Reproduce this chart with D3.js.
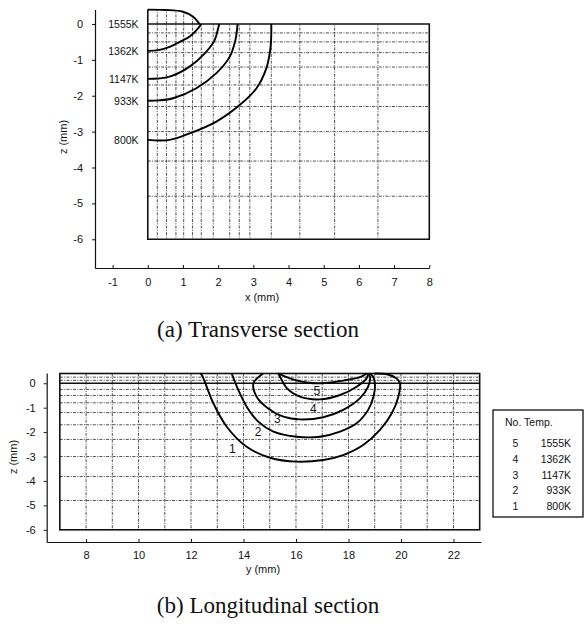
<!DOCTYPE html>
<html>
<head>
<meta charset="utf-8">
<script src="https://cdn.jsdelivr.net/npm/d3@7"></script>
<style>
  body { margin: 0; background: #fff; }
  svg text { font-family: "Liberation Sans", Arial, sans-serif; fill: #111; }
  .caption { font-family: "Liberation Serif", "Times New Roman", serif !important; }
</style>
</head>
<body>
<svg id="fig" width="585" height="624"></svg>
<script>
// ---- isotherm levels ----
const levelNo   = [5, 4, 3, 2, 1];
const levelTemp = ["1555K", "1362K", "1147K", "933K", "800K"];

// ---- (a) transverse section: isotherms as (x, z) in mm ----
const tr1555 = [[0, 0.40], [0.5, 0.39], [1.0, 0.34], [1.29, 0.20], [1.47, 0]];
const tr1362 = [[0, -0.75], [0.3, -0.73], [0.62, -0.64], [0.95, -0.48], [1.19, -0.35], [1.43, -0.12], [1.52, 0]];
const tr1147 = [[0, -1.53], [0.3, -1.52], [0.62, -1.47], [1.19, -1.19], [1.62, -0.82], [1.9, -0.45], [2.0, -0.12], [2.03, 0]];
const tr933  = [[0, -2.14], [0.3, -2.13], [0.72, -2.07], [1.38, -1.79], [1.95, -1.37], [2.33, -0.91], [2.49, -0.45], [2.54, -0.12], [2.55, 0]];
const tr800  = [[0, -3.23], [0.62, -3.23], [1.19, -3.05], [1.95, -2.72], [2.61, -2.26], [3.09, -1.79], [3.37, -1.23], [3.49, -0.63], [3.51, 0]];

// ---- (b) longitudinal section: isotherms as (y, z) in mm ----
const lg1555 = [[15.3, 0.40], [15.77, 0.20], [16.41, 0.03], [17.04, 0], [17.8, 0.11], [18.44, 0.25], [18.69, 0.40]];
const lg1362 = [[15.33, 0.40], [15.45, 0.15], [15.65, -0.20], [16.15, -0.55], [16.91, -0.66], [17.68, -0.48], [18.31, -0.14], [18.69, 0.20], [18.75, 0.40]];
const lg1147 = [[14.75, 0.40], [14.38, 0], [14.5, -0.55], [14.94, -1.03], [15.52, -1.37], [16.15, -1.48], [17.04, -1.39], [17.8, -1.09], [18.44, -0.61], [18.75, -0.14], [18.82, 0.27], [18.75, 0.40]];
const lg933  = [[13.55, 0.40], [13.8, -0.27], [14.12, -0.96], [14.56, -1.57], [15.14, -1.98], [16.03, -2.19], [16.91, -2.19], [17.68, -1.98], [18.31, -1.64], [18.75, -1.09], [18.95, -0.55], [19.01, -0.07], [18.94, 0.27], [18.8, 0.40]];
const lg800  = [[12.35, 0.40], [12.41, 0.34], [12.85, -0.82], [13.36, -1.78], [14.12, -2.60], [15.01, -3.05], [16.03, -3.21], [17.04, -3.14], [17.8, -2.94], [18.56, -2.53], [19.2, -1.91], [19.65, -1.23], [19.9, -0.55], [19.96, 0], [19.83, 0.20], [19.5, 0.36], [19.0, 0.40]];

// ---- finite-element mesh lines ----
const meshX  = [0.27, 0.53, 0.8, 1.02, 1.27, 1.52, 1.86, 2.33, 2.6, 2.9, 3.51, 4.32, 5.31, 6.54];
const meshZ  = [-0.25, -0.5, -0.8, -1.2, -1.7, -2.3, -3.0, -3.82, -4.8];
const meshZTop = [0.25, 0.12];
const meshY  = [8, 9, 10, 11, 12, 13, 14, 15, 16, 17, 18, 19, 20, 21, 22];

// ---- tick values ----
const trTicksX = [-1, 0, 1, 2, 3, 4, 5, 6, 7, 8];
const trTicksZ = [0, -1, -2, -3, -4, -5, -6];
const lgTicksY = [8, 10, 12, 14, 16, 18, 20, 22];
const lgTicksZ = [0, -1, -2, -3, -4, -5, -6];

const svg = d3.select("#fig");
const gridStyle = g => g.attr("stroke", "#222").attr("stroke-width", 0.8)
  .attr("stroke-dasharray", "3,1.3,1,1.3").attr("fill", "none");

function axisStyle(g, fs) {
  g.select(".domain").attr("stroke", "#111").attr("stroke-width", 1.2);
  g.selectAll(".tick line").attr("stroke", "#111").attr("stroke-width", 1);
  g.selectAll(".tick text").attr("font-size", fs).attr("fill", "#111")
    .style("font-family", "Liberation Sans, Arial, sans-serif");
}

// ================= (a) Transverse section =================
{
  const x = d3.scaleLinear().domain([-1.5, 8]).range([95, 429.3]);
  const z = d3.scaleLinear().domain([0.4, -6.8]).range([9.6, 268]);
  const line = d3.line().x(d => x(d[0])).y(d => z(d[1])).curve(d3.curveCatmullRom.alpha(0.5));
  const g = svg.append("g");

  // clip: rectangular domain plus the bead above the surface
  const clip = svg.append("defs").append("clipPath").attr("id", "clipA");
  clip.append("rect").attr("x", x(0)).attr("y", z(0)).attr("width", x(8) - x(0)).attr("height", z(-6) - z(0));
  clip.append("path").attr("d", line(tr1555) + `L${x(0)},${z(0)}Z`);

  const mesh = g.append("g").attr("clip-path", "url(#clipA)").call(gridStyle);
  mesh.selectAll("line.v").data(meshX).join("line")
    .attr("x1", d => x(d)).attr("x2", d => x(d)).attr("y1", z(0.45)).attr("y2", z(-6));
  mesh.selectAll("line.h").data(meshZ).join("line")
    .attr("x1", x(0)).attr("x2", x(8)).attr("y1", d => z(d)).attr("y2", d => z(d));

  // domain outline
  g.append("path")
    .attr("d", `M${x(0)},${z(0.4)}L${x(0)},${z(-6)}L${x(8)},${z(-6)}L${x(8)},${z(0)}L${x(0)},${z(0)}`)
    .attr("fill", "none").attr("stroke", "#111").attr("stroke-width", 1.6);

  // isotherms
  const curves = [tr1555, tr1362, tr1147, tr933, tr800];
  g.selectAll("path.iso").data(curves).join("path")
    .attr("d", line).attr("fill", "none").attr("stroke", "#000").attr("stroke-width", 1.9);

  // isotherm labels beside the symmetry plane
  const labelZ = [0, -0.75, -1.55, -2.15, -3.25];
  g.selectAll("text.lab").data(levelTemp).join("text")
    .attr("x", x(-0.26)).attr("y", (d, i) => z(labelZ[i]) + 3.8)
    .attr("text-anchor", "end").attr("font-size", 10.5).text(d => d);

  // axes
  const ax = g.append("g").attr("transform", `translate(0,${z(-6.8)})`)
    .call(d3.axisBottom(x).tickValues(trTicksX).tickSize(3).tickSizeOuter(0).tickPadding(7).tickFormat(d => String(d)));
  axisStyle(ax, 11);
  ax.selectAll(".tick line").attr("y2", -3);
  const az = g.append("g").attr("transform", `translate(${x(-1.5)},0)`)
    .call(d3.axisLeft(z).tickValues(trTicksZ).tickSize(3).tickSizeOuter(0).tickPadding(9).tickFormat(d => String(d)));
  axisStyle(az, 11);

  g.append("text").attr("x", 262).attr("y", 301).attr("text-anchor", "middle").attr("font-size", 11).text("x (mm)");
  g.append("text").attr("transform", "translate(67,137) rotate(-90)").attr("text-anchor", "middle")
    .attr("font-size", 11).text("z (mm)");
}

svg.append("text").attr("class", "caption").attr("x", 258).attr("y", 337)
  .attr("text-anchor", "middle").attr("font-size", 23).text("(a) Transverse section");

// ================= (b) Longitudinal section =================
{
  const y = d3.scaleLinear().domain([6.5, 23.05]).range([46.7, 481]);
  const z = d3.scaleLinear().domain([0.42, -6.5]).range([373, 542]);
  const line = d3.line().x(d => y(d[0])).y(d => z(d[1])).curve(d3.curveCatmullRom.alpha(0.5));
  const g = svg.append("g");

  const mesh = g.append("g").call(gridStyle);
  mesh.selectAll("line.v").data(meshY).join("line")
    .attr("x1", d => y(d)).attr("x2", d => y(d)).attr("y1", z(0.4)).attr("y2", z(-6));
  mesh.selectAll("line.h").data(meshZTop.concat(meshZ)).join("line")
    .attr("x1", y(7)).attr("x2", y(23)).attr("y1", d => z(d)).attr("y2", d => z(d));

  g.append("rect").attr("x", y(7)).attr("y", z(0.4)).attr("width", y(23) - y(7)).attr("height", z(-6) - z(0.4))
    .attr("fill", "none").attr("stroke", "#111").attr("stroke-width", 1.6);
  g.append("line").attr("x1", y(7)).attr("x2", y(23)).attr("y1", z(0)).attr("y2", z(0))
    .attr("stroke", "#111").attr("stroke-width", 1.4);

  const curves = [lg1555, lg1362, lg1147, lg933, lg800];
  g.selectAll("path.iso").data(curves).join("path")
    .attr("d", line).attr("fill", "none").attr("stroke", "#000").attr("stroke-width", 1.9);

  // level numbers along the isotherms
  const at = [[16.79, -0.3], [16.66, -1.03], [15.29, -1.43], [14.56, -1.98], [13.57, -2.66]];
  g.selectAll("text.num").data(levelNo).join("text")
    .attr("x", (d, i) => y(at[i][0])).attr("y", (d, i) => z(at[i][1]) + 4.5)
    .attr("text-anchor", "middle").attr("font-size", 12).text(d => d);

  const ax = g.append("g").attr("transform", `translate(0,${z(-6.5)})`)
    .call(d3.axisBottom(y).tickValues(lgTicksY).tickSize(3).tickSizeOuter(0).tickPadding(6).tickFormat(d => String(d)));
  axisStyle(ax, 11);
  ax.selectAll(".tick line").attr("y2", -3);
  const az = g.append("g").attr("transform", `translate(${y(6.5)},0)`)
    .call(d3.axisLeft(z).tickValues(lgTicksZ).tickSize(3).tickSizeOuter(0).tickPadding(8).tickFormat(d => String(d)));
  axisStyle(az, 11);

  g.append("text").attr("x", 263).attr("y", 573).attr("text-anchor", "middle").attr("font-size", 11).text("y (mm)");
  g.append("text").attr("transform", "translate(17,457) rotate(-90)").attr("text-anchor", "middle")
    .attr("font-size", 11).text("z (mm)");

  // legend
  const lg = g.append("g");
  lg.append("rect").attr("x", 493).attr("y", 410).attr("width", 90).attr("height", 107)
    .attr("fill", "#fff").attr("stroke", "#111").attr("stroke-width", 1.3);
  lg.append("text").attr("x", 505).attr("y", 426).attr("font-size", 10.5).text("No.  Temp.");
  lg.selectAll("text.no").data(levelNo).join("text")
    .attr("x", 515.5).attr("y", (d, i) => 447.3 + i * 15.7).attr("text-anchor", "middle")
    .attr("font-size", 10.5).text(d => d);
  lg.selectAll("text.tp").data(levelTemp).join("text")
    .attr("x", 571).attr("y", (d, i) => 447.3 + i * 15.7).attr("text-anchor", "end")
    .attr("font-size", 10.5).text(d => d);
}

svg.append("text").attr("class", "caption").attr("x", 268).attr("y", 613)
  .attr("text-anchor", "middle").attr("font-size", 23).text("(b) Longitudinal section");
</script>
</body>
</html>
